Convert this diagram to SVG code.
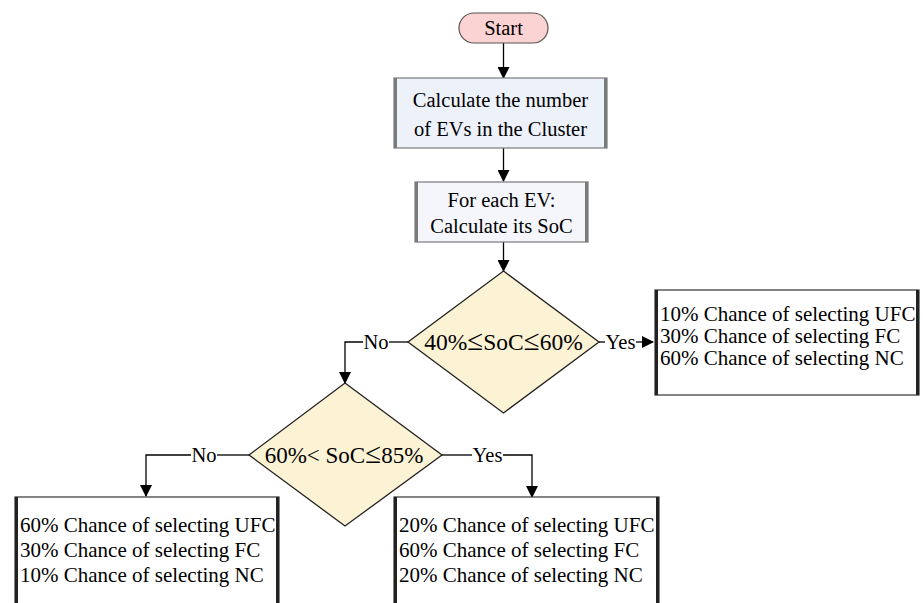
<svg xmlns="http://www.w3.org/2000/svg" width="923" height="603" viewBox="0 0 923 603">
<defs>
<marker id="arr" markerWidth="12" markerHeight="12" refX="11" refY="6" orient="auto" markerUnits="userSpaceOnUse">
<path d="M0,0 L12,6 L0,12 Z" fill="#000"/>
</marker>
</defs>
<style>
text{font-family:"Liberation Serif","Times New Roman",serif;fill:#000}
.t{font-size:20.5px;text-anchor:middle}
.d{font-size:23.5px;text-anchor:middle}
.le{font-size:29px}
.r{font-size:21px}
.lbl{font-size:20.5px;text-anchor:middle}
.ln{fill:none;stroke:#000;stroke-width:1.3}
.proc{stroke:#7a7a7a;stroke-width:1.2}
.side{stroke:#7a7a7a;stroke-width:3}
.dia{fill:#fcf2d4;stroke:#222;stroke-width:1.3}
.res{fill:#fff;stroke:#333;stroke-width:1.2}
.rside{stroke:#222;stroke-width:3}
</style>
<rect width="923" height="603" fill="#fff"/>
<g id="connectors">
<line class="ln" x1="503.5" y1="43" x2="503.5" y2="78" marker-end="url(#arr)"/>
<line class="ln" x1="503.5" y1="148" x2="503.5" y2="181" marker-end="url(#arr)"/>
<line class="ln" x1="503.5" y1="242" x2="503.5" y2="271" marker-end="url(#arr)"/>
<polyline class="ln" points="408,342 389,342"/>
<polyline class="ln" points="363,342 345,342 345,383" marker-end="url(#arr)"/>
<text class="lbl" x="376" y="349">No</text>
<line class="ln" x1="599" y1="342" x2="605" y2="342"/>
<line class="ln" x1="636" y1="342" x2="653" y2="342" marker-end="url(#arr)"/>
<text class="lbl" x="620.5" y="349">Yes</text>
<line class="ln" x1="249" y1="455" x2="217" y2="455"/>
<polyline class="ln" points="191,455 146,455 146,496" marker-end="url(#arr)"/>
<text class="lbl" x="204" y="462">No</text>
<line class="ln" x1="442" y1="455" x2="472" y2="455"/>
<polyline class="ln" points="503,455 532,455 532,497" marker-end="url(#arr)"/>
<text class="lbl" x="487.5" y="462">Yes</text>
</g>
<g id="start">
<rect x="459" y="13" width="89" height="30" rx="15" ry="15" fill="#fbd3d3" stroke="#555" stroke-width="1.2"/>
<text class="t" x="503.5" y="35">Start</text>
</g>
<g id="count">
<rect class="proc" x="394" y="78" width="213" height="70" fill="#edf1fa"/>
<line class="side" x1="395.5" y1="78" x2="395.5" y2="148"/>
<line class="side" x1="605.5" y1="78" x2="605.5" y2="148"/>
<text class="t" x="500.5" y="107">Calculate the number</text>
<text class="t" x="500.5" y="136">of EVs in the Cluster</text>
</g>
<g id="soc">
<rect class="proc" x="415" y="182" width="173" height="60" fill="#f4f6fc"/>
<line class="side" x1="416.5" y1="182" x2="416.5" y2="242"/>
<line class="side" x1="586.5" y1="182" x2="586.5" y2="242"/>
<text class="t" x="501.5" y="207">For each EV:</text>
<text class="t" x="501.5" y="233">Calculate its SoC</text>
</g>
<g id="dec1">
<polygon class="dia" points="503.5,271 599,342 503.5,413 408,342"/>
<text class="d" x="503.5" y="350">40%<tspan class="le">≤</tspan>SoC<tspan class="le">≤</tspan>60%</text>
</g>
<g id="dec2">
<polygon class="dia" points="345,383 442,455 345,526 249,455"/>
<text class="d" x="344" y="463" style="font-size:23px">60%&lt; SoC<tspan class="le">≤</tspan>85%</text>
</g>
<g id="res1">
<rect class="res" x="655" y="290" width="264" height="105"/>
<line class="rside" x1="656.5" y1="290" x2="656.5" y2="395"/>
<line class="rside" x1="917.5" y1="290" x2="917.5" y2="395"/>
<text class="r" x="660" y="321">10% Chance of selecting UFC</text>
<text class="r" x="660" y="343">30% Chance of selecting FC</text>
<text class="r" x="660" y="365">60% Chance of selecting NC</text>
</g>
<g id="res2">
<rect class="res" x="15" y="497" width="264" height="120"/>
<line class="rside" x1="16.5" y1="497" x2="16.5" y2="603"/>
<line class="rside" x1="277.5" y1="497" x2="277.5" y2="603"/>
<text class="r" x="20" y="532">60% Chance of selecting UFC</text>
<text class="r" x="20" y="557">30% Chance of selecting FC</text>
<text class="r" x="20" y="582">10% Chance of selecting NC</text>
</g>
<g id="res3">
<rect class="res" x="394" y="497" width="265" height="120"/>
<line class="rside" x1="395.5" y1="497" x2="395.5" y2="603"/>
<line class="rside" x1="657.5" y1="497" x2="657.5" y2="603"/>
<text class="r" x="399" y="532">20% Chance of selecting UFC</text>
<text class="r" x="399" y="557">60% Chance of selecting FC</text>
<text class="r" x="399" y="582">20% Chance of selecting NC</text>
</g>
</svg>
